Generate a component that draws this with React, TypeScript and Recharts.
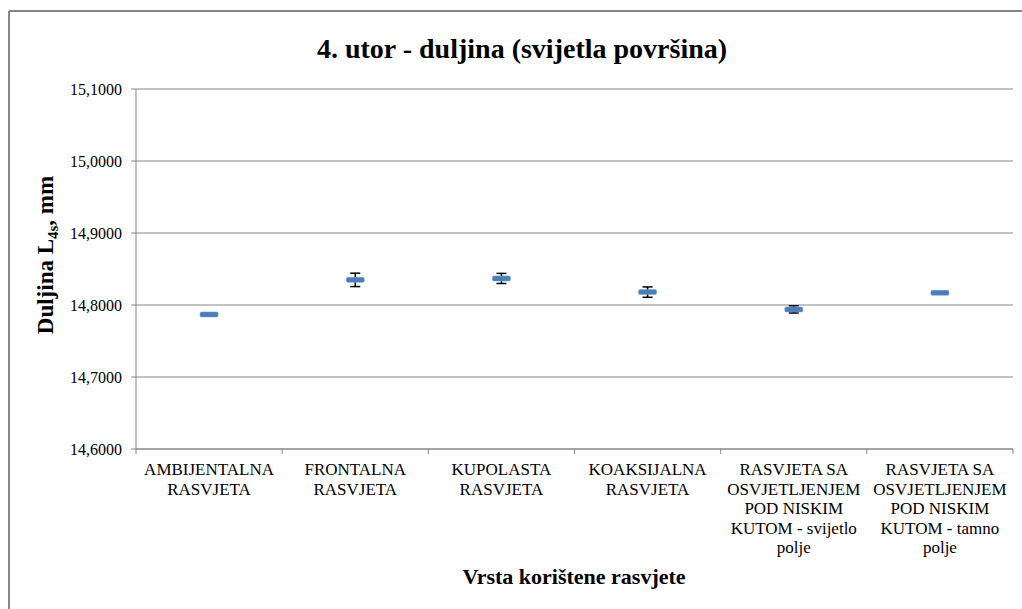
import { CartesianGrid, ComposedChart, ErrorBar, Line, XAxis, YAxis } from "recharts"

const categories = [
    ["AMBIJENTALNA", "RASVJETA"],
    ["FRONTALNA", "RASVJETA"],
    ["KUPOLASTA", "RASVJETA"],
    ["KOAKSIJALNA", "RASVJETA"],
    ["RASVJETA SA", "OSVJETLJENJEM", "POD NISKIM", "KUTOM - svijetlo", "polje"],
    ["RASVJETA SA", "OSVJETLJENJEM", "POD NISKIM", "KUTOM - tamno", "polje"],
]
const lengths = [14.7869, 14.8349, 14.8369, 14.8179, 14.7939, 14.8169]
const deviations = [0.001, 0.0093, 0.007, 0.0072, 0.005, 0.001]
const yTicks = [14.6, 14.7, 14.8, 14.9, 15.0, 15.1]

const FONT = "'Times New Roman', Tinos, 'Liberation Serif', 'DejaVu Serif', serif"
const GRID = "#868686"
const W = 1022
const H = 609
const PLOT_LEFT = 136
const PLOT_RIGHT = 1013
const BAND = (PLOT_RIGHT - PLOT_LEFT) / categories.length

const data = categories.map((lines, i) => ({
    name: lines.join(" "),
    lines,
    value: lengths[i],
    err: deviations[i],
}))

// flat blue dash like the Excel marker
function DashMarker(props: any) {
    const { cx, cy } = props
    if (cx == null || cy == null) return null
    return <rect x={cx - 9} y={cy - 2.5} width={18} height={5} rx={1.5} fill="#4A7EBB" stroke="#6d9ad0" strokeWidth={0.5} />
}

function CategoryTick(props: any) {
    const { x, y, index } = props
    const item = data[index]
    const left = x - BAND / 2
    return (
        <g>
            <line x1={left} y1={y} x2={left} y2={y + 5} stroke={GRID} />
            {index === data.length - 1 && <line x1={x + BAND / 2} y1={y} x2={x + BAND / 2} y2={y + 5} stroke={GRID} />}
            <text x={x} y={y + 26} textAnchor="middle" style={{ fontFamily: FONT, fontSize: 17 }} fill="#000">
                {item.lines.map((l: string, i: number) => (
                    <tspan key={i} x={x} dy={i === 0 ? 0 : 19.6}>
                        {l}
                    </tspan>
                ))}
            </text>
        </g>
    )
}

export default function App() {
    return (
        <div style={{ position: "absolute", left: 0, top: 0, width: W, height: H, background: "#fff", fontFamily: FONT }}>
            <ComposedChart width={W} height={H} data={data} margin={{ top: 89, right: W - PLOT_RIGHT, bottom: 10, left: 0 }}>
                <CartesianGrid vertical={false} stroke={GRID} strokeDasharray="" />
                <XAxis
                    dataKey="name"
                    type="category"
                    scale="band"
                    interval={0}
                    height={150}
                    axisLine={{ stroke: GRID }}
                    tickLine={false}
                    tickSize={0}
                    tickMargin={0}
                    tick={<CategoryTick />}
                />
                <YAxis
                    type="number"
                    domain={[14.6, 15.1]}
                    ticks={yTicks}
                    width={PLOT_LEFT}
                    axisLine={{ stroke: GRID }}
                    tickLine={{ stroke: GRID }}
                    tickSize={5}
                    tickMargin={9}
                    tick={{ style: { fontFamily: FONT, fontSize: 16 }, fill: "#000" }}
                    tickFormatter={(v: number) => v.toFixed(4).replace(".", ",")}
                />
                <Line
                    dataKey="value"
                    stroke="none"
                    dot={<DashMarker />}
                    activeDot={false}
                    isAnimationActive={false}
                >
                    <ErrorBar dataKey="err" direction="y" width={5} stroke="#000" strokeWidth={1.5} />
                </Line>
            </ComposedChart>
            <svg width={W} height={H} style={{ position: "absolute", left: 0, top: 0, pointerEvents: "none", fontFamily: FONT }}>
                <line x1={9} y1={11} x2={W} y2={11} stroke={GRID} strokeWidth={2} />
                <line x1={9} y1={11} x2={9} y2={H} stroke={GRID} strokeWidth={2} />
                <text x={522} y={58} textAnchor="middle" fontWeight="bold" fontSize={28} fill="#000">
                    4. utor - duljina (svijetla površina)
                </text>
                <text x={574} y={584} textAnchor="middle" fontWeight="bold" fontSize={22} fill="#000">
                    Vrsta korištene rasvjete
                </text>
                <text transform="translate(53, 255) rotate(-90)" textAnchor="middle" fontWeight="bold" fontSize={23} fill="#000">
                    Duljina  L
                    <tspan fontSize={15} dy={5}>
                        4s
                    </tspan>
                    <tspan dy={-5}>, mm</tspan>
                </text>
            </svg>
        </div>
    )
}
